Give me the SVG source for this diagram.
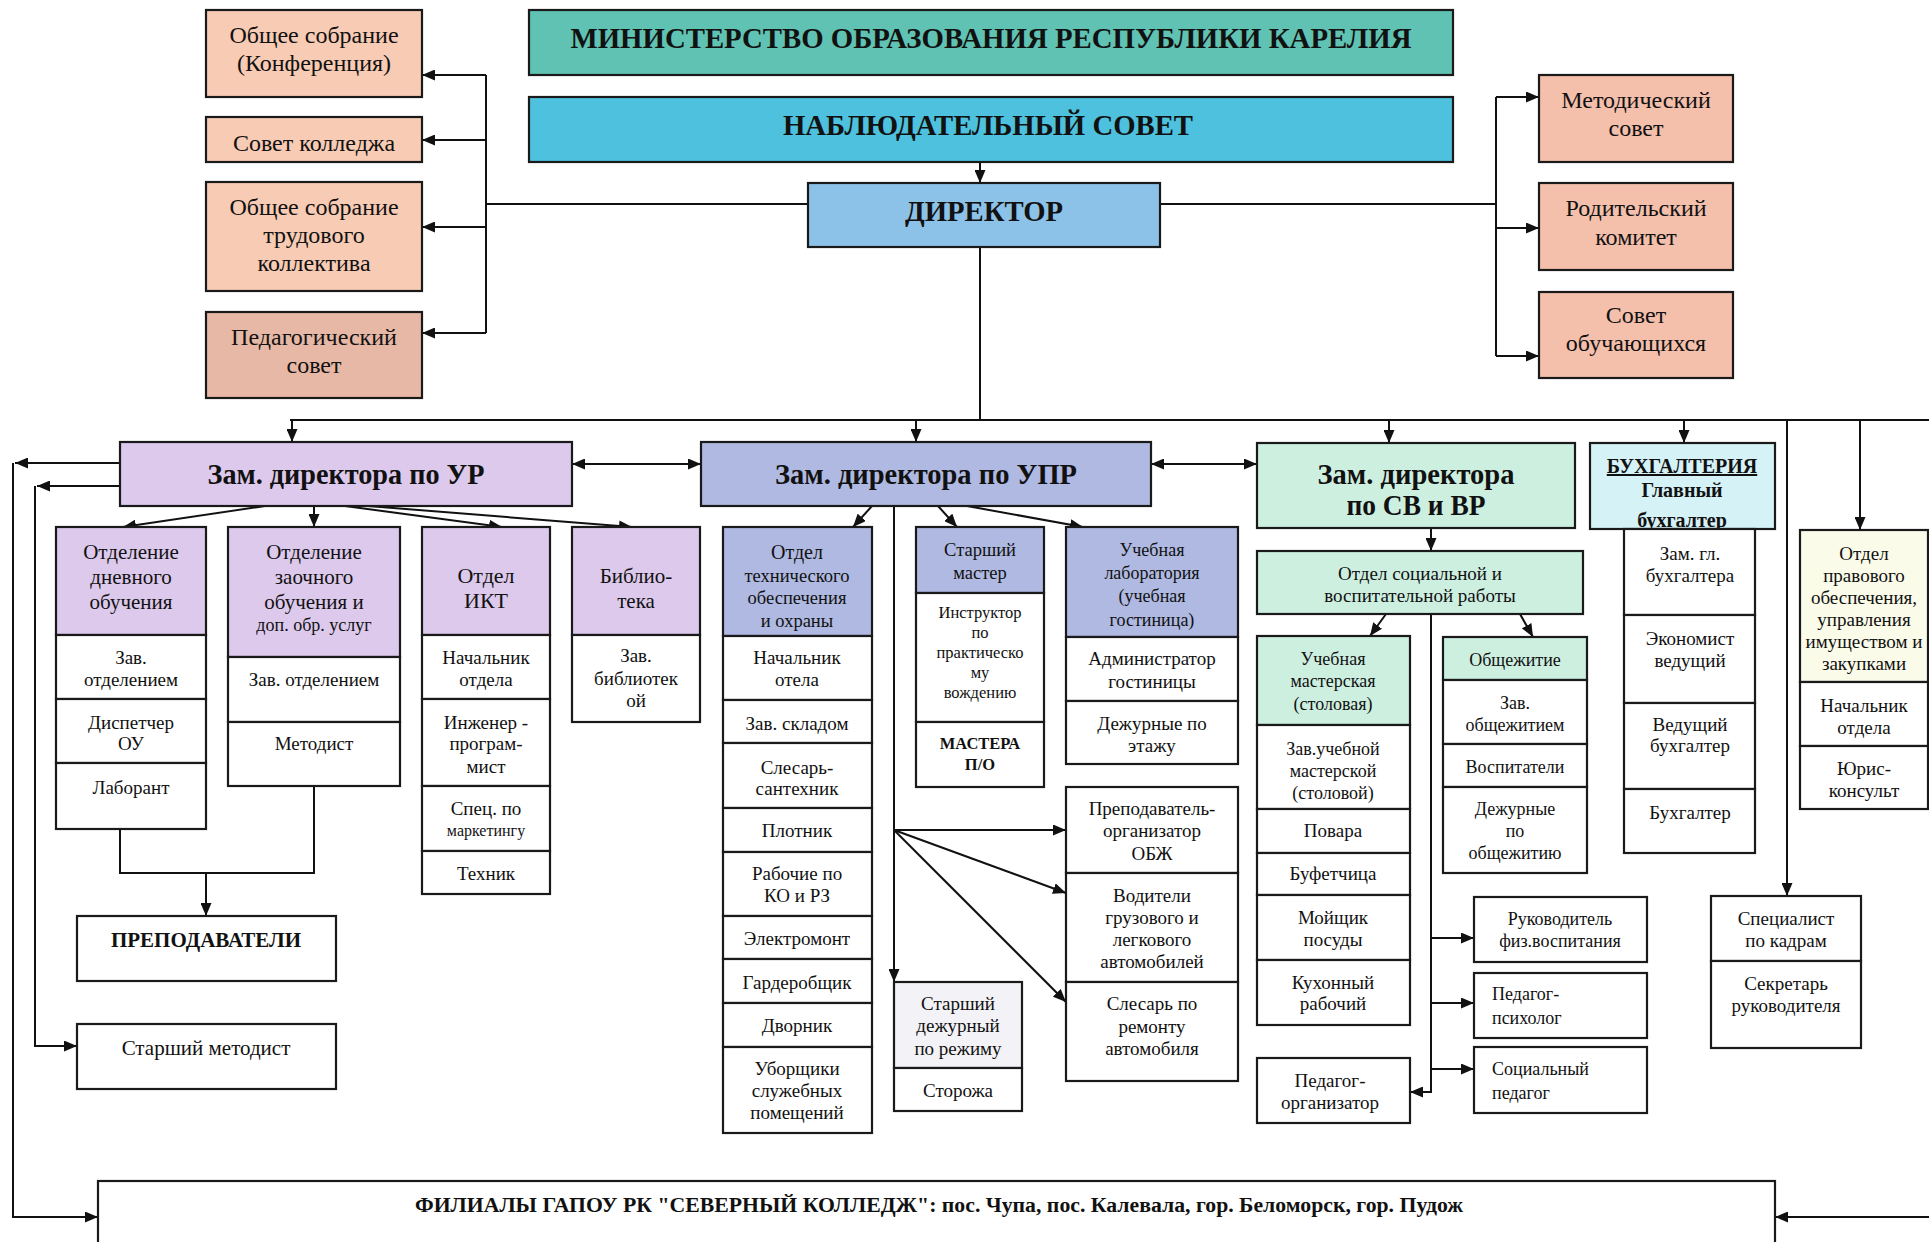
<svg xmlns="http://www.w3.org/2000/svg" width="1929" height="1242" viewBox="0 0 1929 1242">
<defs>
<style>
rect{stroke:#1a1a1a;stroke-width:2.2}
.w{fill:#fff}.pk{fill:#F8CBB4}.pk2{fill:#E8B8A6}.pk3{fill:#F4BFAB}
.ur{fill:#DCC9EC}.upr{fill:#AFB9E2}.sv{fill:#CDEFE0}
text{font-family:"Liberation Serif","Times New Roman",serif;text-anchor:middle;fill:#111;font-size:19px}
.b{font-weight:bold}.l{text-anchor:start}
.s16{font-size:16px}.s165{font-size:16.5px}.s18{font-size:18px}.s185{font-size:18.5px}.s20{font-size:20px}.s21{font-size:21px}.s22{font-size:22px}.s24{font-size:24px}.s30{font-size:30px}
#conn path{fill:none;stroke:#111;stroke-width:2}
.a{marker-end:url(#ah)}.d{marker-start:url(#ah);marker-end:url(#ah)}
</style>
<marker id="ah" viewBox="0 0 13 11" refX="13" refY="5.5" markerWidth="13" markerHeight="11" markerUnits="userSpaceOnUse" orient="auto-start-reverse"><path d="M0,0 L13,5.5 L0,11 z" fill="#111"/></marker>
</defs>
<rect x="0" y="0" width="1929" height="1242" fill="#fff" style="stroke:none"/>

<g id="conn">
<path class="a" d="M980,162 V183"/>
<path d="M808,204 H486 M486,75 V333"/>
<path class="a" d="M486,75 H422"/>
<path class="a" d="M486,140 H422"/>
<path class="a" d="M486,227 H422"/>
<path class="a" d="M486,333 H422"/>
<path d="M1160,204 H1496 M1496,97 V356"/>
<path class="a" d="M1496,97 H1539"/>
<path class="a" d="M1496,228 H1539"/>
<path class="a" d="M1496,356 H1539"/>
<path d="M980,247 V420 M290,420 H1929"/>
<path class="a" d="M292,420 V442"/>
<path class="a" d="M916,420 V442"/>
<path class="a" d="M1389,420 V443"/>
<path class="a" d="M1684,420 V443"/>
<path class="a" d="M1787,420 V896"/>
<path class="a" d="M1860,420 V530"/>
<path class="d" d="M572,464 H701"/>
<path class="d" d="M1151,464 H1257"/>
<path class="a" d="M120,463 H15"/>
<path class="a" d="M13,463 V1217 H98"/>
<path class="a" d="M120,486 H37"/>
<path class="a" d="M35,486 V1046 H77"/>
<path class="a" d="M265,506 L123,527"/>
<path class="a" d="M314,506 V527"/>
<path class="a" d="M345,506 L502,527"/>
<path class="a" d="M368,506 L632,527"/>
<path d="M120,829 V873 H314 V786"/>
<path class="a" d="M206,873 V916"/>
<path class="a" d="M872,506 L853,527"/>
<path class="a" d="M938,506 L957,527"/>
<path class="a" d="M967,506 L1083,527"/>
<path class="a" d="M894,506 V982"/>
<path class="a" d="M894,830 H1066"/>
<path class="a" d="M894,830 L1066,893"/>
<path class="a" d="M894,830 L1066,1002"/>
<path class="a" d="M1431,528 V551"/>
<path class="a" d="M1386,614 L1370,636"/>
<path class="a" d="M1520,614 L1533,637"/>
<path class="a" d="M1431,614 V1092 H1410"/>
<path class="a" d="M1431,938 H1474"/>
<path class="a" d="M1431,1003 H1474"/>
<path class="a" d="M1431,1069 H1474"/>
<path class="a" d="M1929,1217 H1775"/>
</g>

<g id="n-min"><rect x="529" y="10" width="924" height="65" fill="#5FC2B2"/><text class="b s30" x="991" y="48" textLength="841" lengthAdjust="spacingAndGlyphs">МИНИСТЕРСТВО ОБРАЗОВАНИЯ РЕСПУБЛИКИ КАРЕЛИЯ</text></g>
<g id="n-nab"><rect x="529" y="97" width="924" height="65" fill="#4DC1DD"/><text class="b s30" x="988" y="135" textLength="410" lengthAdjust="spacingAndGlyphs">НАБЛЮДАТЕЛЬНЫЙ СОВЕТ</text></g>
<g id="n-dir"><rect x="808" y="183" width="352" height="64" fill="#8DC2E8"/><text class="b s30" x="984" y="221" textLength="158" lengthAdjust="spacingAndGlyphs">ДИРЕКТОР</text></g>

<g id="n-conf"><rect class="pk" x="206" y="10" width="216" height="87"/><text class="s24"><tspan x="314" y="43">Общее собрание</tspan><tspan x="314" y="71">(Конференция)</tspan></text></g>
<g id="n-sovk"><rect class="pk" x="206" y="117" width="216" height="45"/><text class="s24" x="314" y="151">Совет колледжа</text></g>
<g id="n-trud"><rect class="pk" x="206" y="182" width="216" height="109"/><text class="s24"><tspan x="314" y="215">Общее собрание</tspan><tspan x="314" y="243">трудового</tspan><tspan x="314" y="271">коллектива</tspan></text></g>
<g id="n-ped"><rect class="pk2" x="206" y="312" width="216" height="86"/><text class="s24"><tspan x="314" y="345">Педагогический</tspan><tspan x="314" y="373">совет</tspan></text></g>

<g id="n-met"><rect class="pk3" x="1539" y="75" width="194" height="87"/><text class="s24"><tspan x="1636" y="108">Методический</tspan><tspan x="1636" y="136">совет</tspan></text></g>
<g id="n-rod"><rect class="pk3" x="1539" y="183" width="194" height="87"/><text class="s24"><tspan x="1636" y="216">Родительский</tspan><tspan x="1636" y="245">комитет</tspan></text></g>
<g id="n-obuch"><rect class="pk3" x="1539" y="292" width="194" height="86"/><text class="s24"><tspan x="1636" y="323">Совет</tspan><tspan x="1636" y="351">обучающихся</tspan></text></g>

<g id="n-ur"><rect class="ur" x="120" y="442" width="452" height="64"/><text class="b s30" x="346" y="484" textLength="277" lengthAdjust="spacingAndGlyphs">Зам. директора по УР</text></g>

<g id="n-dnev">
<rect class="ur" x="56" y="527" width="150" height="108"/><text class="s21"><tspan x="131" y="559">Отделение</tspan><tspan x="131" y="584">дневного</tspan><tspan x="131" y="609">обучения</tspan></text>
<rect class="w" x="56" y="635" width="150" height="64"/><text><tspan x="131" y="664">Зав.</tspan><tspan x="131" y="686">отделением</tspan></text>
<rect class="w" x="56" y="699" width="150" height="64"/><text><tspan x="131" y="729">Диспетчер</tspan><tspan x="131" y="750">ОУ</tspan></text>
<rect class="w" x="56" y="763" width="150" height="66"/><text x="131" y="794">Лаборант</text>
</g>
<g id="n-zaoch">
<rect class="ur" x="228" y="527" width="172" height="130"/><text class="s21"><tspan x="314" y="559">Отделение</tspan><tspan x="314" y="584">заочного</tspan><tspan x="314" y="609">обучения и</tspan><tspan x="314" y="631" class="s18">доп. обр. услуг</tspan></text>
<rect class="w" x="228" y="657" width="172" height="65"/><text x="314" y="686">Зав. отделением</text>
<rect class="w" x="228" y="722" width="172" height="64"/><text x="314" y="750">Методист</text>
</g>
<g id="n-ikt">
<rect class="ur" x="422" y="527" width="128" height="108"/><text class="s22"><tspan x="486" y="583">Отдел</tspan><tspan x="486" y="608">ИКТ</tspan></text>
<rect class="w" x="422" y="635" width="128" height="64"/><text><tspan x="486" y="664">Начальник</tspan><tspan x="486" y="686">отдела</tspan></text>
<rect class="w" x="422" y="699" width="128" height="87"/><text><tspan x="486" y="729">Инженер -</tspan><tspan x="486" y="750">програм-</tspan><tspan x="486" y="773">мист</tspan></text>
<rect class="w" x="422" y="786" width="128" height="65"/><text><tspan x="486" y="815">Спец. по</tspan><tspan x="486" y="836" class="s16">маркетингу</tspan></text>
<rect class="w" x="422" y="851" width="128" height="43"/><text x="486" y="880">Техник</text>
</g>
<g id="n-bib">
<rect class="ur" x="572" y="527" width="128" height="108"/><text class="s21"><tspan x="636" y="583">Библио-</tspan><tspan x="636" y="608">тека</tspan></text>
<rect class="w" x="572" y="635" width="128" height="87"/><text><tspan x="636" y="662">Зав.</tspan><tspan x="636" y="685">библиотек</tspan><tspan x="636" y="707">ой</tspan></text>
</g>
<g id="n-prep"><rect class="w" x="77" y="916" width="259" height="65"/><text class="b s21" x="206" y="947">ПРЕПОДАВАТЕЛИ</text></g>
<g id="n-stmet"><rect class="w" x="77" y="1024" width="259" height="65"/><text class="s21" x="206" y="1055">Старший методист</text></g>

<g id="n-upr"><rect class="upr" x="701" y="442" width="450" height="64"/><text class="b s30" x="926" y="484" textLength="302" lengthAdjust="spacingAndGlyphs">Зам. директора по УПР</text></g>
<g id="n-tech">
<rect class="upr" x="723" y="527" width="149" height="109"/><text class="s185"><tspan x="797" y="559" class="s20">Отдел</tspan><tspan x="797" y="582">технического</tspan><tspan x="797" y="604">обеспечения</tspan><tspan x="797" y="627">и охраны</tspan></text>
<rect class="w" x="723" y="636" width="149" height="64"/><text><tspan x="797" y="664">Начальник</tspan><tspan x="797" y="686">отела</tspan></text>
<rect class="w" x="723" y="700" width="149" height="43"/><text x="797" y="730">Зав. складом</text>
<rect class="w" x="723" y="743" width="149" height="65"/><text><tspan x="797" y="774">Слесарь-</tspan><tspan x="797" y="795">сантехник</tspan></text>
<rect class="w" x="723" y="808" width="149" height="44"/><text x="797" y="837">Плотник</text>
<rect class="w" x="723" y="852" width="149" height="64"/><text><tspan x="797" y="880">Рабочие по</tspan><tspan x="797" y="902">КО и РЗ</tspan></text>
<rect class="w" x="723" y="916" width="149" height="43"/><text x="797" y="945">Электромонт</text>
<rect class="w" x="723" y="959" width="149" height="44"/><text x="797" y="989">Гардеробщик</text>
<rect class="w" x="723" y="1003" width="149" height="44"/><text x="797" y="1032">Дворник</text>
<rect class="w" x="723" y="1047" width="149" height="86"/><text><tspan x="797" y="1075">Уборщики</tspan><tspan x="797" y="1097">служебных</tspan><tspan x="797" y="1119">помещений</tspan></text>
</g>
<g id="n-stmast">
<rect class="upr" x="916" y="527" width="128" height="66"/><text class="s185"><tspan x="980" y="556">Старший</tspan><tspan x="980" y="579">мастер</tspan></text>
<rect class="w" x="916" y="593" width="128" height="129"/><text class="s165"><tspan x="980" y="618">Инструктор</tspan><tspan x="980" y="638">по</tspan><tspan x="980" y="658">практическо</tspan><tspan x="980" y="678">му</tspan><tspan x="980" y="698">вождению</tspan></text>
<rect class="w" x="916" y="722" width="128" height="65"/><text class="b s165"><tspan x="980" y="749">МАСТЕРА</tspan><tspan x="980" y="770">П/О</tspan></text>
</g>
<g id="n-lab">
<rect class="upr" x="1066" y="527" width="172" height="110"/><text class="s18"><tspan x="1152" y="556">Учебная</tspan><tspan x="1152" y="579">лаборатория</tspan><tspan x="1152" y="602">(учебная</tspan><tspan x="1152" y="626">гостиница)</tspan></text>
<rect class="w" x="1066" y="637" width="172" height="64"/><text><tspan x="1152" y="665">Администратор</tspan><tspan x="1152" y="688">гостиницы</tspan></text>
<rect class="w" x="1066" y="701" width="172" height="63"/><text><tspan x="1152" y="730">Дежурные по</tspan><tspan x="1152" y="752">этажу</tspan></text>
</g>
<g id="n-obzh"><rect class="w" x="1066" y="787" width="172" height="86"/><text><tspan x="1152" y="815">Преподаватель-</tspan><tspan x="1152" y="837">организатор</tspan><tspan x="1152" y="860">ОБЖ</tspan></text></g>
<g id="n-vod"><rect class="w" x="1066" y="873" width="172" height="109"/><text><tspan x="1152" y="902">Водители</tspan><tspan x="1152" y="924">грузового и</tspan><tspan x="1152" y="946">легкового</tspan><tspan x="1152" y="968">автомобилей</tspan></text></g>
<g id="n-sles"><rect class="w" x="1066" y="982" width="172" height="99"/><text><tspan x="1152" y="1010">Слесарь по</tspan><tspan x="1152" y="1033">ремонту</tspan><tspan x="1152" y="1055">автомобиля</tspan></text></g>
<g id="n-stdezh">
<rect x="894" y="982" width="128" height="86" fill="#F3F3F7"/><text><tspan x="958" y="1010">Старший</tspan><tspan x="958" y="1032">дежурный</tspan><tspan x="958" y="1055">по режиму</tspan></text>
<rect class="w" x="894" y="1068" width="128" height="43"/><text x="958" y="1097">Сторожа</text>
</g>

<g id="n-sv"><rect class="sv" x="1257" y="443" width="318" height="85"/><text class="b s30"><tspan x="1416" y="484" textLength="197" lengthAdjust="spacingAndGlyphs">Зам. директора</tspan><tspan x="1416" y="515" textLength="139" lengthAdjust="spacingAndGlyphs">по СВ и ВР</tspan></text></g>
<g id="n-soc"><rect class="sv" x="1257" y="551" width="326" height="63"/><text><tspan x="1420" y="580">Отдел социальной и</tspan><tspan x="1420" y="602">воспитательной работы</tspan></text></g>
<g id="n-mast">
<rect class="sv" x="1257" y="636" width="153" height="89"/><text class="s18"><tspan x="1333" y="665">Учебная</tspan><tspan x="1333" y="687">мастерская</tspan><tspan x="1333" y="710">(столовая)</tspan></text>
<rect class="w" x="1257" y="725" width="153" height="84"/><text class="s18"><tspan x="1333" y="755">Зав.учебной</tspan><tspan x="1333" y="777">мастерской</tspan><tspan x="1333" y="799">(столовой)</tspan></text>
<rect class="w" x="1257" y="809" width="153" height="44"/><text x="1333" y="837">Повара</text>
<rect class="w" x="1257" y="853" width="153" height="42"/><text x="1333" y="880">Буфетчица</text>
<rect class="w" x="1257" y="895" width="153" height="65"/><text><tspan x="1333" y="924">Мойщик</tspan><tspan x="1333" y="946">посуды</tspan></text>
<rect class="w" x="1257" y="960" width="153" height="65"/><text><tspan x="1333" y="989">Кухонный</tspan><tspan x="1333" y="1010">рабочий</tspan></text>
</g>
<g id="n-pedorg"><rect class="w" x="1257" y="1058" width="153" height="65"/><text><tspan x="1330" y="1087">Педагог-</tspan><tspan x="1330" y="1109">организатор</tspan></text></g>
<g id="n-obsh">
<rect class="sv" x="1443" y="637" width="144" height="43"/><text class="s18" x="1515" y="666">Общежитие</text>
<rect class="w" x="1443" y="680" width="144" height="64"/><text class="s18"><tspan x="1515" y="709">Зав.</tspan><tspan x="1515" y="731">общежитием</tspan></text>
<rect class="w" x="1443" y="744" width="144" height="43"/><text class="s18" x="1515" y="773">Воспитатели</text>
<rect class="w" x="1443" y="787" width="144" height="86"/><text class="s18"><tspan x="1515" y="815">Дежурные</tspan><tspan x="1515" y="837">по</tspan><tspan x="1515" y="859">общежитию</tspan></text>
</g>
<g id="n-fiz"><rect class="w" x="1474" y="897" width="173" height="65"/><text class="s18"><tspan x="1560" y="925">Руководитель</tspan><tspan x="1560" y="947">физ.воспитания</tspan></text></g>
<g id="n-psy"><rect class="w" x="1474" y="973" width="173" height="65"/><text class="l s18"><tspan x="1492" y="1000">Педагог-</tspan><tspan x="1492" y="1024">психолог</tspan></text></g>
<g id="n-socped"><rect class="w" x="1474" y="1047" width="173" height="66"/><text class="l s18"><tspan x="1492" y="1075">Социальный</tspan><tspan x="1492" y="1099">педагог</tspan></text></g>

<g id="n-buh">
<rect x="1590" y="443" width="185" height="86" fill="#D5F2F7"/><text class="b s20"><tspan x="1682" y="473" text-decoration="underline">БУХГАЛТЕРИЯ</tspan><tspan x="1682" y="497">Главный</tspan><tspan x="1682" y="527">бухгалтер</tspan></text>
<rect class="w" x="1624" y="529" width="131" height="86"/><text><tspan x="1690" y="560">Зам. гл.</tspan><tspan x="1690" y="582">бухгалтера</tspan></text>
<rect class="w" x="1624" y="615" width="131" height="88"/><text><tspan x="1690" y="645">Экономист</tspan><tspan x="1690" y="667">ведущий</tspan></text>
<rect class="w" x="1624" y="703" width="131" height="86"/><text><tspan x="1690" y="731">Ведущий</tspan><tspan x="1690" y="752">бухгалтер</tspan></text>
<rect class="w" x="1624" y="789" width="131" height="64"/><text x="1690" y="819">Бухгалтер</text>
</g>
<g id="n-prav">
<rect x="1800" y="530" width="128" height="152" fill="#FBFBEA"/><text><tspan x="1864" y="560">Отдел</tspan><tspan x="1864" y="582">правового</tspan><tspan x="1864" y="604">обеспечения,</tspan><tspan x="1864" y="626">управления</tspan><tspan x="1864" y="648">имуществом и</tspan><tspan x="1864" y="670">закупками</tspan></text>
<rect class="w" x="1800" y="682" width="128" height="64"/><text><tspan x="1864" y="712">Начальник</tspan><tspan x="1864" y="734">отдела</tspan></text>
<rect class="w" x="1800" y="746" width="128" height="63"/><text><tspan x="1864" y="775">Юрис-</tspan><tspan x="1864" y="797">консульт</tspan></text>
</g>
<g id="n-kadr">
<rect class="w" x="1711" y="896" width="150" height="65"/><text><tspan x="1786" y="925">Специалист</tspan><tspan x="1786" y="947">по кадрам</tspan></text>
<rect class="w" x="1711" y="961" width="150" height="87"/><text><tspan x="1786" y="990">Секретарь</tspan><tspan x="1786" y="1012">руководителя</tspan></text>
</g>
<g id="n-fil"><rect class="w" x="98" y="1181" width="1677" height="80"/><text class="b s20" x="939" y="1212" textLength="1048" lengthAdjust="spacingAndGlyphs">ФИЛИАЛЫ ГАПОУ РК "СЕВЕРНЫЙ КОЛЛЕДЖ": пос. Чупа, пос. Калевала, гор. Беломорск, гор. Пудож</text></g>
</svg>
